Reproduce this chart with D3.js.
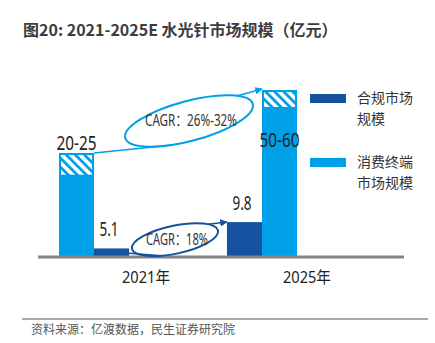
<!DOCTYPE html>
<html lang="zh">
<head>
<meta charset="UTF-8">
<title>水光针市场规模</title>
<script src="https://d3js.org/d3.v7.min.js"></script>
<style>
  body { margin: 0; background: #fff; }
  .narrow { font-family: "Liberation Sans Narrow", "Noto Sans", "Noto Sans CJK SC", sans-serif; }
  .cjk { font-family: "Noto Sans CJK SC", sans-serif; }
</style>
</head>
<body>
<div id="chart"></div>
<script>
// data
var years = ["2021年", "2025年"];
var compliance = [5.1, 9.8];          // 合规市场规模
var consumerLow = [20, 50];           // 消费终端市场规模 (low end)
var consumerHigh = [25, 60];          // (high end)
var consumerLabels = ["20-25", "50-60"];
var complianceLabels = ["5.1", "9.8"];
var cagrLabels = ["CAGR：26%-32%", "CAGR：18%"];
var legendLines = [["合规市场", "规模"], ["消费终端", "市场规模"]];
// position of the consumer bar inside each year group (order flips in 2025)
var consumerSlot = [0, 1];

var W = 435, H = 343;
var light = "#00a0e9", dark = "#15529f";

var svg = d3.select("#chart").append("svg")
    .attr("width", W).attr("height", H);

// squeeze text to a given width (the original uses a condensed face)
function squeeze(sel, w) {
  sel.attr("textLength", w).attr("lengthAdjust", "spacingAndGlyphs");
}

var defs = svg.append("defs");
var pat = defs.append("pattern")
    .attr("id", "hatch")
    .attr("patternUnits", "userSpaceOnUse")
    .attr("width", 6.4).attr("height", 6.4)
    .attr("patternTransform", "rotate(-45)");
pat.append("rect").attr("width", 6.4).attr("height", 6.4).attr("fill", "#fff");
pat.append("rect").attr("width", 2.8).attr("height", 6.4).attr("fill", light);

function marker(id, color) {
  defs.append("marker")
      .attr("id", id)
      .attr("viewBox", "0 0 10 10")
      .attr("refX", 9).attr("refY", 5)
      .attr("markerWidth", 5).attr("markerHeight", 5)
      .attr("orient", "auto")
    .append("path")
      .attr("d", "M0,0L10,5L0,10Z")
      .attr("fill", color);
}
marker("arrL", light);
marker("arrD", dark);

// title
svg.append("text")
    .attr("class", "cjk")
    .attr("x", 23).attr("y", 36)
    .attr("font-size", 16).attr("font-weight", "bold")
    .attr("fill", "#3d3d3d")
    .text("图20: 2021-2025E 水光针市场规模（亿元）");

// scales (schematic axis, so y is piecewise)
var x = d3.scaleBand().domain(years).range([59, 297]).paddingInner(0.583).paddingOuter(0);
var sub = d3.scaleBand().domain([0, 1]).range([0, x.bandwidth()]);
var y = d3.scaleLinear().domain([0, 5, 10, 25, 60]).range([256, 249, 221, 153, 90]);

function consumerX(i) { return x(years[i]) + sub(consumerSlot[i]); }
function complianceX(i) { return x(years[i]) + sub(1 - consumerSlot[i]); }

// consumer bars
years.forEach(function(yr, i) {
  var bx = consumerX(i), bw = sub.bandwidth();
  svg.append("rect")
      .attr("x", bx).attr("y", y(consumerLow[i]))
      .attr("width", bw).attr("height", y(0) - y(consumerLow[i]))
      .attr("fill", light);
  svg.append("rect")
      .attr("x", bx + 1).attr("y", y(consumerHigh[i]) + 1)
      .attr("width", bw - 2).attr("height", y(consumerLow[i]) - y(consumerHigh[i]) - 1)
      .attr("fill", "url(#hatch)")
      .attr("stroke", light).attr("stroke-width", 2);
  svg.append("text")
      .attr("class", "narrow")
      .attr("x", bx + bw / 2 - 20).attr("y", i === 0 ? y(consumerHigh[i]) - 3 : y(consumerHigh[i]) + 57)
      .attr("font-size", 19).attr("fill", "#222")
      .text(consumerLabels[i])
      .call(squeeze, 40);
});

// compliance bars
years.forEach(function(yr, i) {
  var bx = complianceX(i), bw = sub.bandwidth();
  svg.append("rect")
      .attr("x", bx).attr("y", y(compliance[i]))
      .attr("width", bw).attr("height", y(0) - y(compliance[i]))
      .attr("fill", dark);
  svg.append("text")
      .attr("class", "narrow")
      .attr("x", bx + bw / 2 - 12).attr("y", y(compliance[i]) - 12)
      .attr("font-size", 19).attr("fill", "#222")
      .text(complianceLabels[i])
      .call(squeeze, 19);
});

// baseline
svg.append("line")
    .attr("x1", 38).attr("x2", 404)
    .attr("y1", y(0) + 1).attr("y2", y(0) + 1)
    .attr("stroke", "#858585").attr("stroke-width", 3);

// x labels
years.forEach(function(yr, i) {
  svg.append("text")
      .attr("class", "narrow")
      .attr("x", x(yr) + x.bandwidth() / 2 + (i === 0 ? 28 : 21)).attr("y", 283)
      .attr("font-size", 16).attr("fill", "#222")
      .text(yr)
      .call(squeeze, 48);
});

// CAGR ellipses with arrows
function ellipsePt(e, t) {
  var a = e.rot * Math.PI / 180;
  var lx = e.rx * Math.cos(t), ly = e.ry * Math.sin(t);
  return [e.cx + lx * Math.cos(a) - ly * Math.sin(a), e.cy + lx * Math.sin(a) + ly * Math.cos(a)];
}
function cagr(e, from, to, color, mk, label, tw) {
  svg.append("ellipse")
      .attr("cx", 0).attr("cy", 0).attr("rx", e.rx).attr("ry", e.ry)
      .attr("transform", "translate(" + e.cx + "," + e.cy + ") rotate(" + e.rot + ")")
      .attr("fill", "none").attr("stroke", color).attr("stroke-width", 2);
  var p1 = ellipsePt(e, Math.PI * 0.62);
  var p2 = ellipsePt(e, -Math.PI * 0.2);
  svg.append("line")
      .attr("x1", from[0]).attr("y1", from[1]).attr("x2", p1[0]).attr("y2", p1[1])
      .attr("stroke", color).attr("stroke-width", 1.5);
  svg.append("line")
      .attr("x1", p2[0]).attr("y1", p2[1]).attr("x2", to[0]).attr("y2", to[1])
      .attr("stroke", color).attr("stroke-width", 1.5)
      .attr("marker-end", "url(#" + mk + ")");
  svg.append("text")
      .attr("class", "narrow")
      .attr("x", e.cx - tw / 2 + 2).attr("y", e.cy + 5)
      .attr("font-size", 15.5).attr("fill", "#333")
      .text(label)
      .call(squeeze, tw);
}

var bw = sub.bandwidth();
var fromL = [consumerX(0) + bw, y(consumerHigh[0])];
var toL = [consumerX(1), y(consumerHigh[1]) - 1];
cagr({cx: (fromL[0] + toL[0]) / 2 + 11, cy: (fromL[1] + toL[1]) / 2, rx: 66, ry: 20, rot: -15},
     fromL, toL, light, "arrL", cagrLabels[0], 92);

var fromD = [complianceX(0) + bw, (y(compliance[0]) + y(0)) / 2 + 1];
var toD = [complianceX(1), y(compliance[1])];
cagr({cx: (fromD[0] + toD[0]) / 2 - 3, cy: (fromD[1] + toD[1]) / 2 + 2, rx: 44, ry: 14, rot: -12},
     fromD, toD, dark, "arrD", cagrLabels[1], 62);

// legend
var legColors = [dark, light];
legendLines.forEach(function(lines, i) {
  var top = 94 + i * 64;
  svg.append("rect")
      .attr("x", 310).attr("y", top)
      .attr("width", 36).attr("height", 9)
      .attr("fill", legColors[i]);
  lines.forEach(function(s, j) {
    svg.append("text")
        .attr("class", "cjk")
        .attr("x", 357).attr("y", top + 9 + j * 21)
        .attr("font-size", 14).attr("fill", "#333")
        .text(s);
  });
});

// source
svg.append("line")
    .attr("x1", 22).attr("x2", 428).attr("y1", 319).attr("y2", 319)
    .attr("stroke", "#555").attr("stroke-width", 1);
svg.append("text")
    .attr("class", "cjk")
    .attr("x", 31).attr("y", 334)
    .attr("font-size", 12).attr("fill", "#555")
    .text("资料来源：亿渡数据，民生证券研究院")
    .call(squeeze, 204);
</script>
</body>
</html>
